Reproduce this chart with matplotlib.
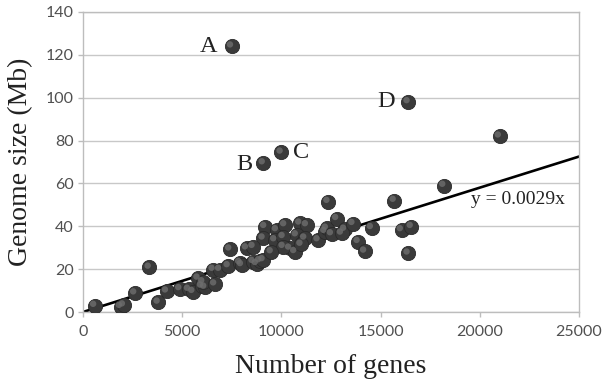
import numpy as np
import matplotlib
matplotlib.use("Agg")
import matplotlib.pyplot as plt
from matplotlib.path import Path
from matplotlib.markers import MarkerStyle

# ---- data ----
genes = [600, 1900, 2050, 2620, 3350, 3800, 4220, 4890, 5330, 5550,
         5810, 5980, 6150, 6050, 6650, 6570, 6900, 7330, 7410, 7913,
         8000, 8250, 8585, 8750, 8920, 9090, 9173, 9760, 10180, 10940,
         11275, 9090, 9680, 10100, 10765, 11190, 10430, 10685, 10100, 11860,
         12200, 12280, 12535, 12800, 13200, 13620, 13040, 14550, 13880, 14210,
         16060, 16560, 16400, 12360, 15700, 18200, 21000, 7500, 9100, 10000,
         16400, 8585, 9500, 11000]
genome_mb = [3.0, 2.5, 3.2, 8.8, 20.8, 4.5, 9.7, 10.8, 10.5, 9.5,
             15.7, 12.0, 11.5, 14.0, 13.0, 19.8, 19.8, 21.5, 29.3, 23.0,
             22.0, 29.8, 23.5, 22.5, 23.8, 24.3, 39.8, 38.3, 40.6, 41.4,
             40.6, 34.4, 33.6, 35.1, 35.9, 34.4, 29.7, 28.1, 30.5, 33.6,
             37.5, 39.0, 36.4, 43.5, 38.5, 41.2, 36.7, 39.3, 32.8, 28.3,
             38.3, 39.8, 27.4, 51.5, 52.0, 59.0, 82.0, 124.0, 69.5, 74.5,
             98.0, 30.5, 28.0, 31.5]
labels = ["A", "B", "C", "D"]
label_x = [7500, 9100, 10000, 16400]
label_y = [124.0, 69.5, 74.5, 98.0]
slope = 0.0029
eq_text = "y = 0.0029x"
x_ticks = [0, 5000, 10000, 15000, 20000, 25000]
y_ticks = [0, 20, 40, 60, 80, 100, 120, 140]

fig = plt.figure(figsize=(6.07, 3.84), dpi=100)
ax = fig.add_axes([0.1367, 0.1875, 0.817, 0.7815])

ax.set_xlim(0, 25000)
ax.set_ylim(0, 140)
ax.set_xticks(x_ticks)
ax.set_yticks(y_ticks)
ax.yaxis.grid(True, color="#c8c8c8", linewidth=1.0)
ax.set_axisbelow(True)
for s in ax.spines.values():
    s.set_color("#bdbdbd")
    s.set_linewidth(1.0)

ax.tick_params(axis="both", direction="out", length=3.5, width=1.0,
               color="#bdbdbd", labelcolor="#505050", labelsize=11.5)
ax.tick_params(axis="x", pad=6)
ax.tick_params(axis="y", pad=3)
for lab in ax.get_xticklabels() + ax.get_yticklabels():
    lab.set_fontfamily("Lato")

# trend line
xl = np.array([0, 25000])
ax.plot(xl, slope * xl, color="black", linewidth=1.9, zorder=2)

# sphere-like markers
ax.scatter(genes, genome_mb, s=105, color="#3a3a3a", edgecolors="#2a2a2a",
           linewidths=0.6, zorder=3)
hl = Path([(-1, -1), (1, 1)] + [(-0.25 + 0.45 * np.cos(t), 0.25 + 0.45 * np.sin(t))
                                for t in np.linspace(0, 2 * np.pi, 40)],
          [Path.MOVETO, Path.MOVETO, Path.MOVETO] + [Path.LINETO] * 38 + [Path.CLOSEPOLY])
ax.scatter(genes, genome_mb, s=105, marker=MarkerStyle(hl), color="#6e6e6e",
           edgecolors="none", alpha=0.8, zorder=4)

serif = "Liberation Serif"
offsets = {"A": (-17, 0), "B": (-14, -1), "C": (14, 0), "D": (-16, 0)}
for lab, lx, ly in zip(labels, label_x, label_y):
    ax.annotate(lab, (lx, ly), xytext=offsets[lab], textcoords="offset points",
                ha="center", va="center", fontsize=17.5, family=serif, color="#222222")

ax.text(19550, 52.3, eq_text, fontsize=14, family=serif, color="#222222",
        ha="left", va="center")

ax.set_xlabel("Number of genes", fontsize=20, family=serif, color="#222222", labelpad=11)
ax.set_ylabel("Genome size (Mb)", fontsize=20, family=serif, color="#222222", labelpad=9)

fig.savefig("out.png", dpi=100)
